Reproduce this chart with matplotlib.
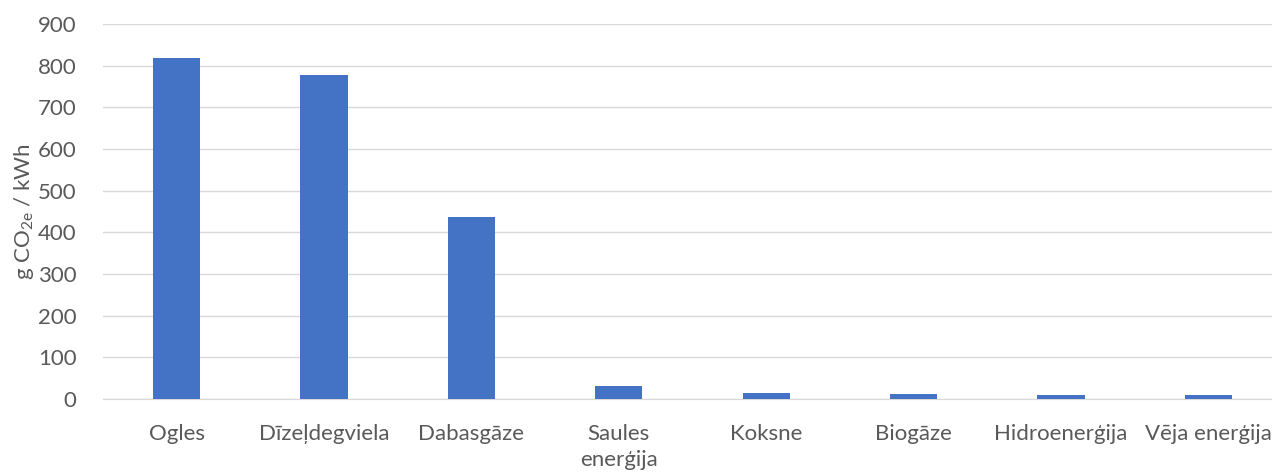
import matplotlib
matplotlib.use("Agg")
import matplotlib.pyplot as plt

categories = ["Ogles", "Dīzeļdegviela", "Dabasgāze", "Saules\nenerģija", "Koksne",
              "Biogāze", "Hidroenerģija", "Vēja enerģija"]
values = [818, 778, 437, 31, 14, 11, 9, 9]
yticks = [0, 100, 200, 300, 400, 500, 600, 700, 800, 900]

plt.rcParams['font.family'] = ['Lato', 'DejaVu Sans']
plt.rcParams['mathtext.fontset'] = 'custom'
plt.rcParams['mathtext.rm'] = 'Lato'

fig = plt.figure(figsize=(12.72, 4.74), dpi=100)
ax = fig.add_axes([103/1272, 75/474, 1179/1272, 375/474])

x = list(range(len(categories)))
ax.bar(x, values, width=0.32, color="#4472C4", zorder=3)
ax.set_xlim(-0.5, len(categories) - 0.5)
ax.set_ylim(0, 900)
ax.set_yticks(yticks)
ax.set_xticks(x)
ax.set_xticklabels(categories, va="top", linespacing=1.35)
ax.yaxis.grid(True, color="#d9d9d9", linewidth=1, zorder=0)
for s in ["top", "right", "left"]:
    ax.spines[s].set_visible(False)
ax.spines["bottom"].set_color("#d9d9d9")
ax.tick_params(axis="both", length=0, labelsize=16, colors="#595959")
ax.tick_params(axis="x", pad=18)
ax.tick_params(axis="y", pad=19)
ax.set_ylabel("g CO$_{\\mathrm{2e}}$ / kWh", fontsize=16, color="#595959",
              rotation=90, ha="center", va="center", rotation_mode="default")
ax.yaxis.set_label_coords(-0.067, 0.5)

fig.savefig("out.png", dpi=100)
